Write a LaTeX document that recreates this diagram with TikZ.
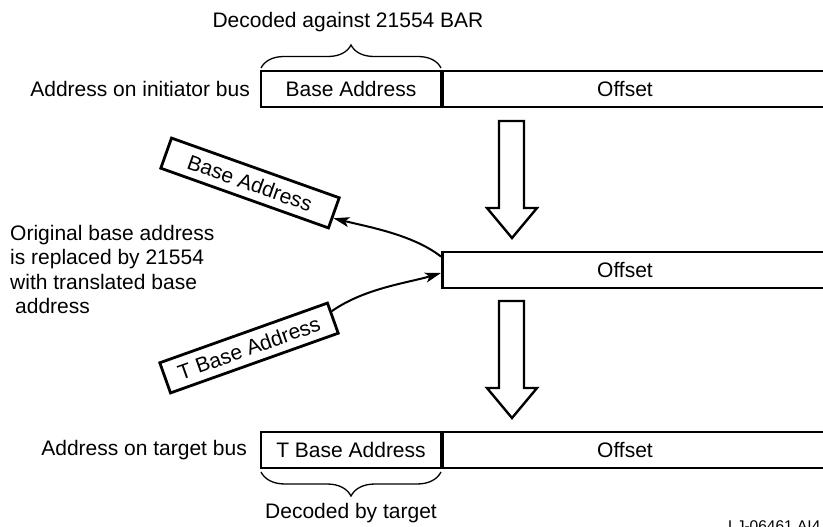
\documentclass[tikz,border=0pt]{standalone}
\usepackage{fontspec}
\setmainfont{Liberation Sans}
\usetikzlibrary{arrows.meta,decorations.pathreplacing,calc}
\begin{document}
\begin{tikzpicture}[x=1pt,y=-1pt,
  lbl/.style={font=\fontsize{21}{24.5}\selectfont, inner sep=0pt},
  cell/.style={draw, line width=2.8pt, minimum height=36pt, inner sep=0pt, font=\fontsize{21}{24.5}\selectfont},
  rbox/.style={draw, line width=2.8pt, minimum width=178pt, minimum height=32pt, inner sep=0pt, font=\fontsize{21}{24.5}\selectfont},
  hollow/.style={draw, line width=2.4pt, fill=white, line join=miter},
  conn/.style={line width=2pt, -{Stealth[length=16pt,width=10pt,inset=4pt]}},
  brc/.style={decorate, decoration={brace, amplitude=#1}, line width=1.3pt}
]
\useasboundingbox (0,0) rectangle (823,527);
\clip (0,0) rectangle (823,527);

% top row
\node[lbl] (dec1) at (348,22.5) {Decoded against 21554 BAR};
\draw[brc=23pt] (261,68) -- (441,68);
\node[lbl, anchor=east] (l1) at (250,89) {Address on initiator bus};
\node[cell, minimum width=180pt] (b1) at (351,89) {Base Address};
\node[cell, minimum width=400pt, anchor=west] (o1) at (441,89) {};
\node[lbl] (o1t) at (625,89) {Offset};

% hollow arrow 1
\draw[hollow] (499,121) -- (524,121) -- (524,208) -- (537,208) -- (512,238) -- (487,208) -- (499,208) -- cycle;

% middle row
\node[cell, minimum width=400pt, anchor=west] (m) at (441,270) {};
\node[lbl] (mt) at (625,270) {Offset};

% rotated boxes
\node[rbox, rotate=-19.6] (bA) at (250,183) {Base Address};
\node[rbox, rotate=19.6] (tb) at (249,348) {T Base Address};

\node[lbl, anchor=north west, align=left] (txt) at (10,224.8)
  {Original base address\\is replaced by 21554\\with translated base\\\hspace*{5pt}address};

% connectors
\coordinate (s1) at ($(m.north west)+(0,6)$);
\coordinate (e1) at ($(bA.east)!0.3!(bA.south east)$);
\draw[conn] (s1) .. controls ($(s1)+(-28,-22)$) and ($(e1)+(34,8.5)$) .. (e1);

\coordinate (s2) at ($(tb.east)!0.4!(tb.north east)$);
\coordinate (e2) at ($(m.west)+(0,3)$);
\draw[conn] (s2) .. controls ($(s2)+(33,-23)$) and ($(e2)+(-33.5,10)$) .. (e2);

% hollow arrow 2
\draw[hollow] (499,301) -- (524,301) -- (524,388) -- (537,388) -- (512,418) -- (487,388) -- (499,388) -- cycle;

% bottom row
\node[lbl, anchor=east] (l3) at (247,450) {Address on target bus};
\node[cell, minimum width=180pt] (b3) at (351,450) {T Base Address};
\node[cell, minimum width=400pt, anchor=west] (o3) at (441,450) {};
\node[lbl] (o3t) at (625,450) {Offset};
\draw[brc=24pt] (441,472) -- (261,472);
\node[lbl] (dec2) at (351,513) {Decoded by target};

\node[font=\fontsize{15.5}{18}\selectfont, inner sep=0pt, anchor=base west] (id) at (728,531) {LJ-06461 AI4};
\end{tikzpicture}
\end{document}
